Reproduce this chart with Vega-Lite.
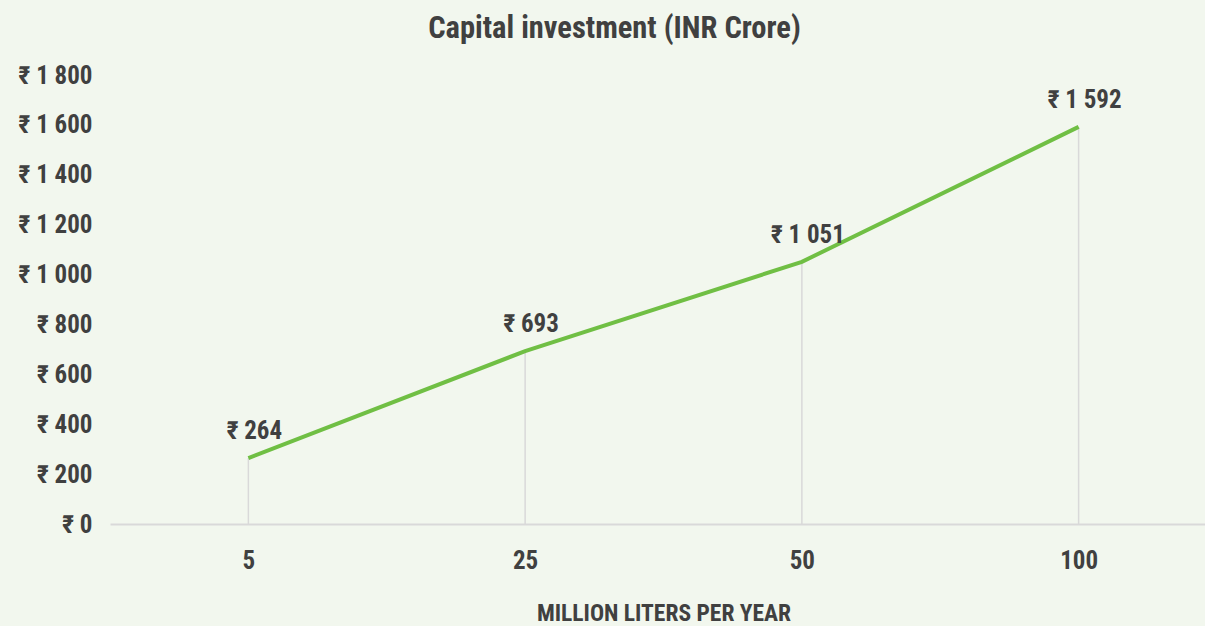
{
  "$schema": "https://vega.github.io/schema/vega-lite/v6.json",
  "autosize": "none",
  "width": 1107,
  "height": 449,
  "padding": {"left": 110, "top": 75, "right": 0, "bottom": 102},
  "background": "#f2f7ee",
  "config": {
    "view": {"stroke": null},
    "font": "Roboto Condensed, DejaVu Sans Condensed, Roboto, sans-serif",
    "locale": {"number": {"decimal": ".", "thousands": " ", "grouping": [3], "currency": ["₹ ", ""]}}
  },
  "title": {
    "text": "Capital investment (INR Crore)",
    "fontSize": 30.5,
    "fontWeight": "bold",
    "color": "#404040",
    "dx": -49,
    "offset": 19
  },
  "data": {
    "values": [
      {"capacity": "5", "investment": 264},
      {"capacity": "25", "investment": 693},
      {"capacity": "50", "investment": 1051},
      {"capacity": "100", "investment": 1592}
    ]
  },
  "encoding": {
    "x": {
      "field": "capacity",
      "type": "ordinal",
      "sort": null,
      "scale": {"type": "point", "padding": 0.5},
      "axis": {
        "title": "MILLION LITERS PER YEAR",
        "titleFontSize": 23.5,
        "titleFontWeight": "bold",
        "titleColor": "#404040",
        "titlePadding": 28,
        "labelAngle": 0,
        "labelFontSize": 25,
        "labelFontWeight": "bold",
        "labelColor": "#404040",
        "labelPadding": 24,
        "ticks": false,
        "domainColor": "#d9d9d9",
        "domainWidth": 2
      }
    },
    "y": {
      "field": "investment",
      "type": "quantitative",
      "scale": {"domain": [0, 1800], "nice": false},
      "axis": {
        "title": null,
        "values": [0, 200, 400, 600, 800, 1000, 1200, 1400, 1600, 1800],
        "format": "$,d",
        "labelFontSize": 25,
        "labelFontWeight": "bold",
        "labelColor": "#404040",
        "labelPadding": 18,
        "ticks": false,
        "domain": false,
        "grid": false
      }
    }
  },
  "layer": [
    {
      "mark": {"type": "rule", "color": "#d9d9d9", "strokeWidth": 1.5},
      "encoding": {
        "y2": {"datum": 0}
      }
    },
    {
      "mark": {"type": "line", "color": "#70bf44", "strokeWidth": 4},
      "encoding": {}
    },
    {
      "mark": {"type": "text", "fontSize": 25, "fontWeight": "bold", "color": "#404040", "dy": -27, "dx": 6},
      "encoding": {
        "text": {"field": "investment", "type": "quantitative", "format": "$,d"}
      }
    }
  ]
}
